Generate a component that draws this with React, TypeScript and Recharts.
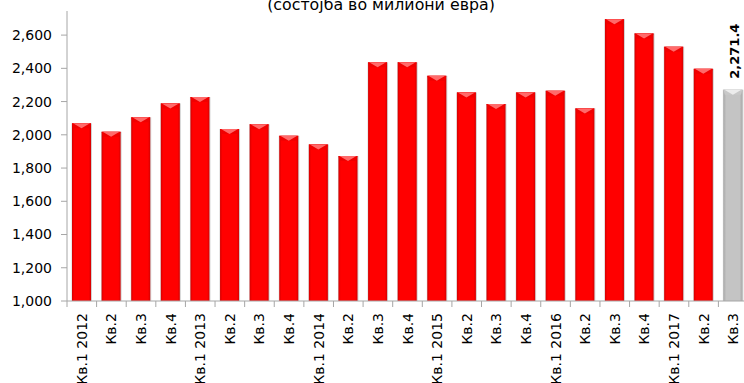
import React from 'react';
import { BarChart, Bar, XAxis, YAxis, LabelList } from 'recharts';

const categories: string[] = [
  'Кв.1 2012', 'Кв.2', 'Кв.3', 'Кв.4',
  'Кв.1 2013', 'Кв.2', 'Кв.3', 'Кв.4',
  'Кв.1 2014', 'Кв.2', 'Кв.3', 'Кв.4',
  'Кв.1 2015', 'Кв.2', 'Кв.3', 'Кв.4',
  'Кв.1 2016', 'Кв.2', 'Кв.3', 'Кв.4',
  'Кв.1 2017', 'Кв.2', 'Кв.3',
];

const values: number[] = [
  2069, 2018, 2105, 2189,
  2227, 2035, 2063, 1994,
  1942, 1872, 2436, 2436,
  2355, 2255, 2185, 2255,
  2265, 2159, 2696, 2610,
  2530, 2397, 2271.4,
];

const yTicks: number[] = [1000, 1200, 1400, 1600, 1800, 2000, 2200, 2400, 2600];

const title = '(состојба во милиони евра)';

const data = categories.map((c, i) => ({ key: `${i}`, name: c, value: values[i] }));

const CHART_W = 748;
const CHART_H = 383;
const Y_W = 67;
const X_H = 82;
const FONT = '"DejaVu Sans", Verdana, sans-serif';
const AXIS = '#a6a6a6';
const BAND = (CHART_W - Y_W) / categories.length;

const fmt = (v: number) => v.toLocaleString('en-US');

const BarShape = (props: any) => {
  const { x, y, width, height, index } = props;
  if (height <= 0) return null;
  const last = index === values.length - 1;
  const g = last ? 'url(#grayGrad)' : 'url(#redGrad)';
  const bevel = last ? '#ececec' : '#ff6a6a';
  const side = last ? '#c8c8c8' : '#f00000';
  const b = 5;
  return (
    <g>
      <rect x={x - 0.5} y={y} width={width + 1.5} height={height} fill="#9a9a9a" opacity={0.45} />
      <rect x={x} y={y} width={width} height={height} fill={g} />
      <polygon
        points={`${x},${y} ${x + width},${y} ${x + width - 1.5},${y + b} ${x + 1.5},${y + b}`}
        fill={side}
      />
      <polygon points={`${x + 1},${y} ${x + width - 1},${y} ${x + width / 2},${y + b}`} fill={bevel} />
    </g>
  );
};

const XTick = (props: any) => {
  const { x, y, payload } = props;
  const lx = x - BAND / 2;
  return (
    <g>
      <line x1={lx} y1={y - 6} x2={lx} y2={y} stroke={AXIS} strokeWidth={1} />
      <text
        x={x}
        y={y + 6}
        transform={`rotate(-90, ${x}, ${y + 6})`}
        textAnchor="end"
        dy="0.36em"
        fontFamily={FONT}
        fontSize={14}
        fill="#000"
      >
        {payload.value}
      </text>
    </g>
  );
};

const LastLabel = (props: any) => {
  const { x, y, width, value, index } = props;
  if (index !== values.length - 1) return null;
  const cx = x + width / 2 + 1;
  const ty = y - 11;
  return (
    <text
      x={cx}
      y={ty}
      transform={`rotate(-90, ${cx}, ${ty})`}
      textAnchor="start"
      dy="0.36em"
      fontFamily={FONT}
      fontSize={13}
      fontWeight="bold"
      fill="#000"
    >
      {Number(value).toLocaleString('en-US', { minimumFractionDigits: 1, maximumFractionDigits: 1 })}
    </text>
  );
};

export default function App() {
  return (
    <div style={{ position: 'absolute', left: 0, top: 0, width: 744, height: 383, overflow: 'hidden', background: '#fff' }}>
      <BarChart
        width={CHART_W}
        height={CHART_H}
        data={data}
        margin={{ top: 11, right: 0, bottom: 0, left: 0 }}
        barSize={19}
      >
        <defs>
          <linearGradient id="redGrad" x1="0" y1="0" x2="1" y2="0">
            <stop offset="0%" stopColor="#d40000" />
            <stop offset="12%" stopColor="#ff0000" />
            <stop offset="88%" stopColor="#ff0000" />
            <stop offset="100%" stopColor="#d40000" />
          </linearGradient>
          <linearGradient id="grayGrad" x1="0" y1="0" x2="1" y2="0">
            <stop offset="0%" stopColor="#a8a8a8" />
            <stop offset="15%" stopColor="#c4c4c4" />
            <stop offset="85%" stopColor="#c4c4c4" />
            <stop offset="100%" stopColor="#a8a8a8" />
          </linearGradient>
        </defs>
        <XAxis
          dataKey="key"
          height={X_H}
          interval={0}
          tickLine={false}
          tickSize={6}
          tickMargin={0}
          axisLine={{ stroke: AXIS }}
          tick={(p: any) => <XTick {...p} payload={{ ...p.payload, value: categories[Number(p.payload.value)] }} />}
        />
        <YAxis
          width={Y_W}
          domain={[1000, 2745]}
          ticks={yTicks}
          allowDataOverflow
          interval={0}
          tickSize={6}
          tickMargin={9}
          tickFormatter={fmt}
          axisLine={{ stroke: AXIS }}
          tickLine={{ stroke: AXIS }}
          tick={{ fontFamily: FONT, fontSize: 14, fill: '#000' }}
        />
        <Bar dataKey="value" shape={<BarShape />} isAnimationActive={false}>
          <LabelList dataKey="value" content={<LastLabel />} />
        </Bar>
      </BarChart>
      <svg width={744} height={383} style={{ position: 'absolute', left: 0, top: 0, pointerEvents: 'none' }}>
        <text x={381} y={10} textAnchor="middle" fontFamily={FONT} fontSize={15.8} fill="#000">
          {title}
        </text>
      </svg>
    </div>
  );
}
